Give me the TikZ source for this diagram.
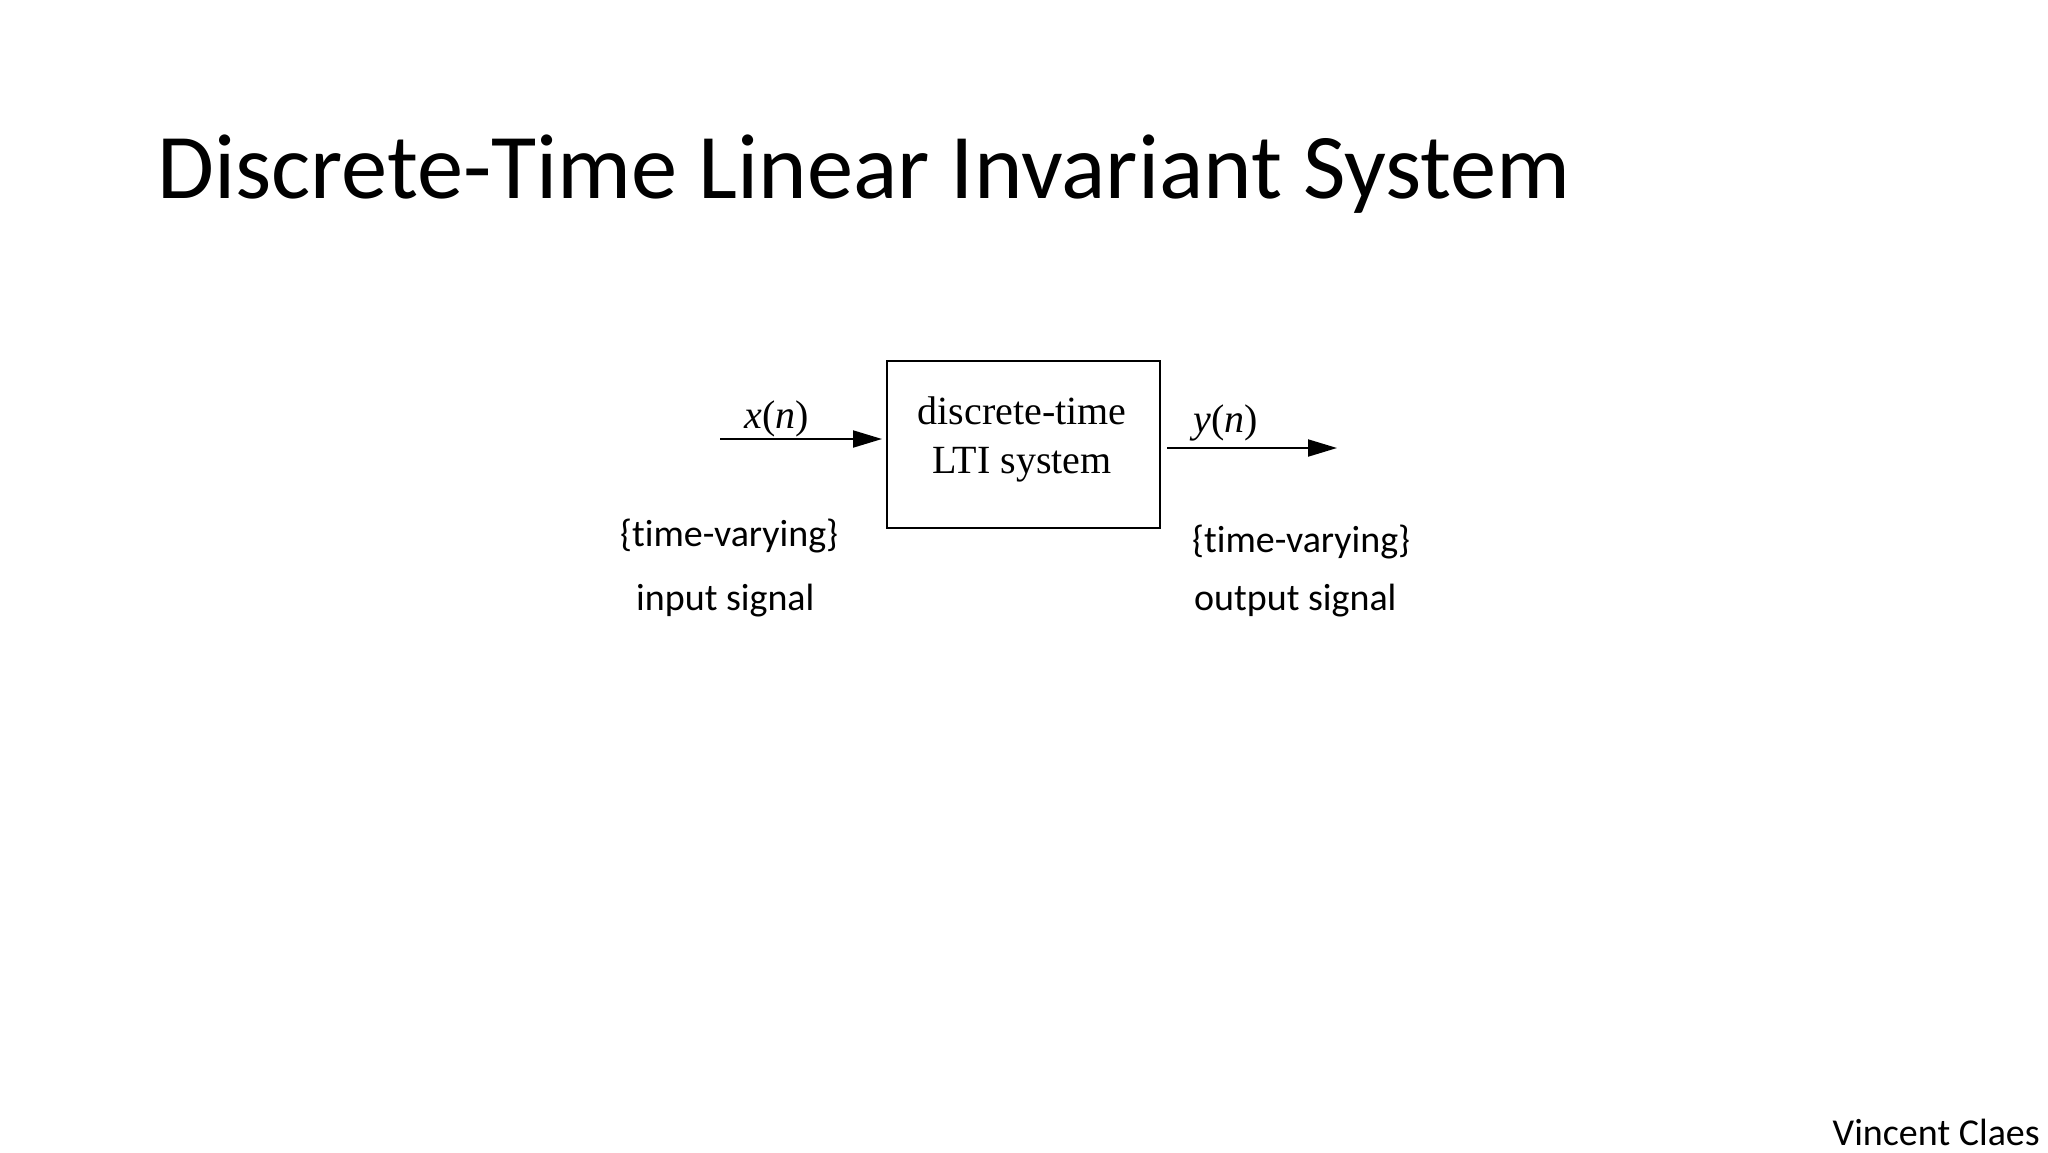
\documentclass[tikz,border=0pt]{standalone}
\usepackage{fontspec}
\setmainfont{Carlito}[Ligatures=NoCommon]
\newfontfamily\timesf{Liberation Serif}
\usetikzlibrary{arrows.meta}
\tikzset{
  sig/.style={line width=2pt,-{Triangle[length=29pt,width=17pt]}},
  lbl/.style={inner sep=0pt,font=\fontsize{38}{45}\selectfont},
  sysbox/.style={draw,line width=2pt,inner sep=0pt,minimum width=273pt,minimum height=167pt},
  mathlbl/.style={inner sep=0pt,font=\timesf\fontsize{40}{48}\selectfont}
}
\begin{document}
\begin{tikzpicture}[x=1pt,y=-1pt]
\useasboundingbox (0,0) rectangle (2048,1152);
\node[anchor=base west,inner sep=0pt,font=\fontsize{92.5}{110}\selectfont] (title) at (157,198) {Discrete-Time Linear Invariant System};
\node[sysbox] (sys) at (1023.5,444) {};
\node[anchor=base,inner sep=0pt,font=\timesf\fontsize{40}{48}\selectfont] (l1) at (1022,424) {discrete-time};
\node[anchor=base,inner sep=0pt,font=\timesf\fontsize{40}{48}\selectfont] (l2) at (1022,473) {LTI system};
\coordinate (in) at (720,439);
\coordinate (inend) at (882,439);
\coordinate (outst) at (1167,448);
\coordinate (out) at (1337,448);
\draw[sig] (in) -- (inend);
\draw[sig] (outst) -- (out);
\node[mathlbl,anchor=base] (x) at (777,428) {\textit{x}(\textit{n})};
\node[mathlbl,anchor=base] (y) at (1226,432) {\textit{y}(\textit{n})};
\node[lbl,anchor=base west] (tv1) at (620,546) {\{time-varying\}};
\node[lbl,anchor=base west] (is) at (636,610) {input signal};
\node[lbl,anchor=base west] (tv2) at (1192,552) {\{time-varying\}};
\node[lbl,anchor=base west] (os) at (1194,610) {output signal};
\node[lbl,anchor=base east] (auth) at (2040,1145) {Vincent Claes};
\end{tikzpicture}
\end{document}
